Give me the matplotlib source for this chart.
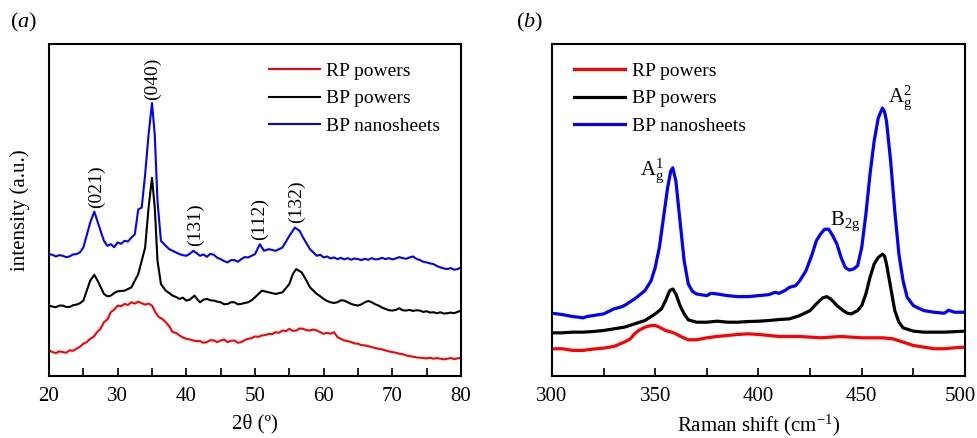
import numpy as np
import matplotlib
matplotlib.use("Agg")
import matplotlib.pyplot as plt
import matplotlib.transforms as mtransforms
from matplotlib.ticker import MultipleLocator

plt.rcParams['font.family'] = ['Liberation Serif', 'DejaVu Serif']
plt.rcParams['mathtext.fontset'] = 'custom'
plt.rcParams['mathtext.rm'] = 'Liberation Serif'
plt.rcParams['mathtext.it'] = 'Liberation Serif:italic'

# XRD patterns, 2-theta in degrees, intensity in arbitrary (offset) units
xrd_theta_blue = [20, 20.5, 21, 21.5, 22, 22.5, 23, 23.5, 24, 24.5, 25, 26, 26.6, 27.2, 28, 28.5, 29, 29.5,
                  30, 30.5, 31, 31.5, 32, 32.5, 33, 33.5, 34, 34.5, 35, 35.4, 35.8, 36.3, 37, 37.5, 38,
                  38.5, 39, 39.5, 40, 40.5, 41, 41.5, 42, 42.5, 43, 43.5, 44, 44.5, 45, 45.5, 46, 46.5,
                  47, 47.5, 48, 48.5, 49, 49.5, 50, 50.7, 51.3, 52, 53, 54, 55, 55.8, 56.5, 57, 58,
                  58.5, 59, 59.5, 60, 60.5, 61, 61.5, 62, 62.5, 63, 63.5, 64, 64.5, 65, 65.5, 66, 66.5,
                  67, 67.5, 68, 68.5, 69, 69.5, 70, 70.5, 71, 71.5, 72, 72.5, 73, 73.5, 74, 74.5, 75,
                  75.5, 76, 76.5, 77, 77.5, 78, 78.5, 79, 79.5, 80]
xrd_blue = [367, 365, 360, 364, 362, 358, 360, 366, 367, 372, 387, 462, 495, 457, 407, 392, 397, 388,
            402, 398, 407, 405, 417, 427, 502, 507, 607, 727, 822, 727, 527, 407, 392, 382, 377,
            372, 367, 364, 362, 368, 377, 370, 362, 366, 359, 368, 365, 356, 352, 346, 342, 349,
            349, 344, 352, 358, 357, 362, 367, 397, 377, 382, 377, 387, 422, 447, 437, 417, 382,
            372, 362, 365, 357, 360, 354, 357, 352, 356, 351, 355, 350, 354, 352, 349, 353, 350,
            355, 351, 352, 356, 352, 355, 351, 354, 358, 355, 353, 357, 360, 353, 349, 344, 342,
            339, 337, 331, 327, 324, 322, 325, 320, 322, 327]

xrd_theta_black = [20, 20.5, 21, 21.5, 22, 22.5, 23, 23.5, 24, 24.5, 25, 26, 26.6, 27.2, 28, 28.5, 29,
                   29.5, 30, 31, 32, 33, 34, 34.5, 35, 35.4, 35.8, 36.3, 37, 37.5, 38, 38.5, 39, 39.5,
                   40, 40.5, 41.2, 41.7, 42, 42.5, 43, 43.5, 44, 44.5, 45, 45.5, 46, 46.5, 47, 47.5,
                   48, 48.5, 49, 49.5, 50, 51, 52, 53, 54, 55, 55.5, 56, 56.8, 57.5, 58, 59, 59.5, 60,
                   60.5, 61, 61.5, 62, 62.5, 63, 63.5, 64, 64.5, 65, 65.5, 66, 66.5, 67, 67.5, 68,
                   68.5, 69, 69.5, 70, 70.5, 71, 71.5, 72, 72.5, 73, 73.5, 74, 74.5, 75, 75.5, 76,
                   76.5, 77, 77.5, 78, 78.5, 79, 79.5, 80]
xrd_black = [212, 209, 207, 212, 212, 208, 208, 213, 215, 219, 227, 287, 305, 282, 247, 240, 242,
             250, 255, 257, 267, 307, 387, 507, 597, 507, 347, 277, 257, 250, 242, 238, 232, 236,
             227, 230, 242, 228, 222, 230, 232, 228, 227, 224, 222, 216, 217, 222, 222, 216,
             217, 220, 222, 228, 237, 257, 252, 247, 252, 277, 307, 322, 312, 287, 267, 247, 240, 232,
             226, 222, 220, 222, 228, 227, 222, 217, 214, 212, 216, 222, 226, 222, 216, 212,
             206, 202, 198, 197, 199, 204, 198, 197, 199, 196, 198, 197, 193, 195, 191, 192,
             189, 192, 188, 189, 191, 189, 193, 197]

xrd_theta_red = [20, 20.5, 21, 21.5, 22, 22.5, 23, 23.5, 24, 24.5, 25, 25.5, 26, 26.5, 27, 27.5, 28, 28.5,
                 29, 29.5, 30, 30.5, 31, 31.5, 32, 32.5, 33, 33.5, 34, 34.5, 35, 35.5, 36, 36.5, 37,
                 37.5, 38, 38.5, 39, 39.5, 40, 40.5, 41, 41.5, 42, 42.5, 43, 43.5, 44, 44.5, 45, 45.5,
                 46, 46.5, 47, 47.5, 48, 48.5, 49, 49.5, 50, 50.5, 51, 51.5, 52, 52.5, 53, 53.5, 54,
                 54.5, 55, 55.5, 56, 56.5, 57, 57.5, 58, 58.5, 59, 59.5, 60, 60.5, 61, 61.5, 62, 62.5,
                 63, 63.5, 64, 64.5, 65, 65.5, 66, 66.5, 67, 67.5, 68, 68.5, 69, 69.5, 70, 70.5, 71,
                 71.5, 72, 72.5, 73, 73.5, 74, 75, 75.5, 76, 76.5, 77, 77.5, 78, 78.5, 79, 79.5, 80]
xrd_red = [77, 72, 69, 74, 72, 70, 77, 76, 82, 88, 97, 102, 112, 118, 132, 142, 162, 170,
           192, 200, 212, 210, 217, 214, 222, 218, 224, 219, 215, 218, 212, 192, 177, 172, 162,
           150, 132, 130, 122, 116, 112, 110, 107, 105, 105, 100, 102, 108, 107, 102, 107, 110,
           102, 106, 107, 100, 102, 108, 112, 114, 119, 118, 122, 123, 127, 126, 132, 130, 137,
           135, 142, 136, 137, 143, 142, 138, 137, 140, 137, 132, 127, 130, 127, 132, 117, 112,
           107, 105, 102, 98, 97, 93, 92, 90, 87, 84, 82, 80, 77, 74, 72, 70, 67,
           66, 62, 60, 58, 56, 55, 53, 55, 52, 54, 52, 50, 52, 54, 51, 53, 55]

# Miller indices of the BP reflections: position, label baseline height
hkl_labels = ['(021)', '(040)', '(131)', '(112)', '(132)']
hkl_pos = [26.9, 35.0, 41.3, 50.7, 56.0]
hkl_height = [507, 832, 392, 409, 462]

# Raman spectra, shift in cm^-1
raman_shift_blue = [300, 305, 310, 313, 315, 317, 320, 325, 330, 333, 335, 340, 345, 348, 350, 352, 354,
                    356, 357.5, 358.5, 360, 362, 364, 366, 368, 370, 375, 377, 380, 385, 390, 395, 400,
                    405, 408, 410, 413, 415, 418, 420, 423, 426, 428, 430, 432, 434, 436, 438, 440,
                    442, 444, 446, 448, 450, 452, 454, 456, 458, 460, 461, 462, 464, 466, 468, 470,
                    472, 475, 480, 485, 490, 492, 495, 500]
raman_blue = [189, 185, 179, 177, 175, 179, 182, 187, 202, 207, 212, 232, 257, 287, 327, 387, 477,
              567, 617, 627, 587, 467, 347, 277, 255, 247, 242, 249, 247, 242, 239, 239, 242,
              245, 252, 249, 258, 267, 272, 287, 317, 367, 407, 427, 442, 442, 422, 397, 357,
              327, 319, 322, 332, 387, 487, 607, 707, 777, 807, 797, 767, 647, 497, 367, 287,
              237, 212, 197, 192, 189, 198, 192, 192]

raman_shift_black = [300, 305, 310, 315, 320, 325, 330, 335, 340, 345, 350, 353, 355, 357, 358.5, 360, 362,
                     364, 366, 370, 375, 380, 385, 390, 395, 400, 405, 410, 415, 420, 425, 428, 431, 433,
                     435, 438, 441, 443, 445, 448, 450, 452, 454, 456, 458, 460, 461, 462, 464, 466, 468,
                     470, 475, 480, 490, 500]
raman_black = [130, 130, 132, 132, 134, 137, 142, 147, 157, 167, 187, 202, 227, 257, 262, 247, 212,
               187, 169, 162, 162, 165, 162, 162, 164, 165, 167, 170, 172, 182, 197, 217, 235, 239,
               232, 212, 197, 189, 187, 197, 212, 247, 297, 337, 357, 367, 362, 337, 267, 197, 162,
               145, 135, 132, 132, 135]

raman_shift_red = [300, 305, 310, 315, 320, 325, 330, 335, 338, 340, 342, 345, 348, 350, 352, 355, 358, 360,
                   363, 366, 370, 375, 380, 385, 390, 395, 400, 405, 410, 420, 430, 435, 440, 445, 450,
                   460, 465, 470, 475, 480, 485, 490, 495, 500]
raman_red = [82, 82, 77, 77, 81, 84, 89, 102, 112, 127, 137, 147, 152, 152, 147, 137, 132, 127,
             117, 109, 109, 115, 119, 122, 125, 127, 125, 122, 119, 119, 115, 117, 119, 117, 115,
             115, 112, 102, 92, 87, 82, 82, 85, 87]

mode_labels = [r'$\mathrm{A_g^1}$', r'$\mathrm{B_{2g}}$', r'$\mathrm{A_g^2}$']
mode_pos = [348.5, 442, 468.5]
mode_height = [617, 467, 837]

series_names = ['RP powers', 'BP powers', 'BP nanosheets']
colors = ['#ff0000', '#000000', '#0000ff']

fig = plt.figure(figsize=(9.78, 4.38), dpi=100)
ax1 = fig.add_axes([0.0501, 0.1416, 0.4213, 0.758])
ax2 = fig.add_axes([0.5644, 0.1416, 0.4223, 0.758])

legend_kw = dict(loc='upper left', frameon=False, fontsize=14, handlelength=2.6,
                 handletextpad=0.35, labelspacing=0.5, borderaxespad=0)

# (a) XRD
ax1.plot(xrd_theta_red, xrd_red, color=colors[0], lw=1.5, label=series_names[0])
ax1.plot(xrd_theta_black, xrd_black, color=colors[1], lw=1.5, label=series_names[1])
ax1.plot(xrd_theta_blue, xrd_blue, color=colors[2], lw=1.5, label=series_names[2])
for lab, x, y in zip(hkl_labels, hkl_pos, hkl_height):
    ax1.text(x, y, lab, rotation=90, ha='center', va='bottom', fontsize=14)
ax1.set_xlim(20, 80)
ax1.set_ylim(0, 1000)
ax1.xaxis.set_major_locator(MultipleLocator(10))
ax1.xaxis.set_minor_locator(MultipleLocator(5))
ax1.set_xlabel('2θ (º)', fontsize=15, labelpad=6)
ax1.set_ylabel('intensity (a.u.)', fontsize=15, labelpad=14)
ax1.legend(bbox_to_anchor=(0.515, 0.968), **legend_kw)

# (b) Raman
ax2.plot(raman_shift_red, raman_red, color=colors[0], lw=2.3, label=series_names[0])
ax2.plot(raman_shift_black, raman_black, color=colors[1], lw=2.3, label=series_names[1])
ax2.plot(raman_shift_blue, raman_blue, color=colors[2], lw=2.3, label=series_names[2])
for lab, x, y in zip(mode_labels, mode_pos, mode_height):
    ax2.text(x, y, lab, ha='center', va='center', fontsize=15)
ax2.set_xlim(300, 500)
ax2.set_ylim(0, 1000)
ax2.xaxis.set_major_locator(MultipleLocator(50))
ax2.xaxis.set_minor_locator(MultipleLocator(25))
ax2.set_xlabel(r'Raman shift (cm$^{-1}$)', fontsize=15, labelpad=5)
ax2.legend(bbox_to_anchor=(0.035, 0.968), **legend_kw)

for ax in (ax1, ax2):
    ax.set_yticks([])
    ax.tick_params(axis='x', which='both', direction='in', labelsize=15, pad=8)
    ax.tick_params(axis='x', which='major', length=6, width=1.2)
    ax.tick_params(axis='x', which='minor', length=6, width=1.2)
    for s in ax.spines.values():
        s.set_linewidth(1.5)

fig.text(0.010, 0.948, r'($\mathit{a}$)', fontsize=16, va='center')
fig.text(0.528, 0.948, r'($\mathit{b}$)', fontsize=16, va='center')

# pull the last Raman tick label in a little so it stays inside the figure
fig.canvas.draw()
shift = mtransforms.ScaledTranslation(-0.045, 0, fig.dpi_scale_trans)
for tick, loc in zip(ax2.xaxis.get_major_ticks(), ax2.get_xticks()):
    if loc == 500:
        tick.label1.set_transform(tick.label1.get_transform() + shift)

fig.savefig('out.png', dpi=100)
